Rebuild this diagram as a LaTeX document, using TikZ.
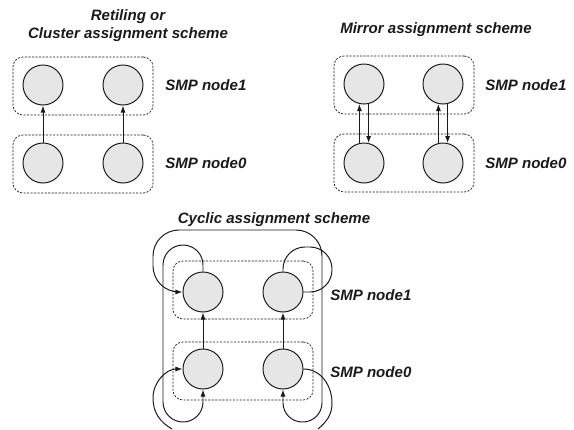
\documentclass[tikz,border=0pt]{standalone}
\usepackage{fontspec}
\setsansfont{Liberation Sans}
\usepackage{tikz}
\usetikzlibrary{arrows.meta,positioning}
\definecolor{cellgray}{HTML}{E6E6E6}
\definecolor{ink}{HTML}{1A1A1A}

\begin{document}
\begin{tikzpicture}[x=0.025cm, y=-0.025cm, font=\sffamily]

% one unit = one pixel of the 574x429 sketch, y runs downwards
\useasboundingbox (0,0) rectangle (574,429);

\tikzset{
  cell/.style={circle, draw=ink, fill=cellgray, line width=0.7pt, minimum size=1cm, inner sep=0pt},
  smpbox/.style={rounded corners=0.25cm, draw=ink, dash pattern=on 1.5pt off 1pt, line width=0.5pt,
                 minimum width=3.5cm, minimum height=1.45cm},
  smplabel/.style={anchor=west, inner sep=0pt, text=ink,
                   font=\fontsize{10.7}{12.8}\selectfont\sffamily\bfseries\itshape},
  schemetitle/.style={align=center, inner sep=0pt, text=ink,
                   font=\fontsize{10.7}{12.8}\selectfont\sffamily\bfseries\itshape},
  link/.style={-{Latex[length=5pt,width=3.6pt]}, line width=0.7pt, draw=ink},
  bilink/.style={{Latex[length=5pt,width=3.6pt]}-{Latex[length=5pt,width=3.6pt]}, line width=0.7pt, draw=ink},
  wire/.style={line width=0.7pt, draw=ink}}

% retiling / cluster scheme
\node[schemetitle] (cltitle) at (128,26) {Retiling or\\Cluster assignment scheme};
\node[smpbox] (clbox1) at (83,86) {};
\node[smpbox] (clbox0) at (83,164) {};
\node[cell] (cl1a) at (43,85) {};
\node[cell] (cl1b) at (123,85) {};
\node[cell] (cl0a) at (43,163) {};
\node[cell] (cl0b) at (123,163) {};
\draw[link] (cl0a) -- (cl1a);   \draw[link] (cl0b) -- (cl1b);
\node[smplabel] (cllab1) at (165,85) {SMP node1};
\node[smplabel] (cllab0) at (165,163) {SMP node0};

% mirror scheme
\node[schemetitle] (mititle) at (436,30) {Mirror assignment scheme};
\node[smpbox] (mibox1) at (404,85) {};
\node[smpbox] (mibox0) at (404,163) {};
\node[cell] (mi1a) at (364,84) {};
\node[cell] (mi1b) at (443,84) {};
\node[cell] (mi0a) at (364,163) {};
\node[cell] (mi0b) at (443,163) {};
\draw[link] (mi0a.103) -- (mi1a.257);   \draw[link] (mi1a.283) -- (mi0a.77);
\draw[link] (mi0b.103) -- (mi1b.257);   \draw[link] (mi1b.283) -- (mi0b.77);
\node[smplabel] (milab1) at (485,85) {SMP node1};
\node[smplabel] (milab0) at (485,163) {SMP node0};

% cyclic scheme
\node[schemetitle] (cytitle) at (274,220) {Cyclic assignment scheme};
\node[smpbox] (cybox1) at (243,290) {};
\node[smpbox] (cybox0) at (243,371) {};
\node[cell] (cy1a) at (203,292) {};
\node[cell] (cy1b) at (283,292) {};
\node[cell] (cy0a) at (203,369) {};
\node[cell] (cy0b) at (283,369) {};
\draw[link] (cy0a) -- (cy1a);   \draw[link] (cy0b) -- (cy1b);
\node[smplabel] (cylab1) at (330,295) {SMP node1};
\node[smplabel] (cylab0) at (330,372) {SMP node0};

% wrap-around wires
\draw[link, rounded corners=0.5cm] (cy1a.north) -- (203,245) -- (163,245) -- (163,422) -- (203,422) -- (cy0a.south);
\draw[bilink, rounded corners=0.65cm] (cy1a.west) -- (153,292) -- (153,230) -- (322,230)
  [rounded corners=0.48cm] -- (322,422) -- (283,422) -- (cy0b.south);
\draw[wire, rounded corners=0.55cm] (cy1b.north) -- (283,247) -- (332,247) -- (332,292) -- (cy1b.east);

% loose ends running off the bottom
\coordinate (cyin) at (172,429);
\coordinate (cyout) at (318,429);
\draw[link] (cyin) to[out=150,in=-90] (153,398) to[out=90,in=180] (cy0a.west);
\draw[wire] (cy0b.east) to[out=0,in=90] (332,403) to[out=-90,in=40] (cyout);

\end{tikzpicture}
\end{document}
